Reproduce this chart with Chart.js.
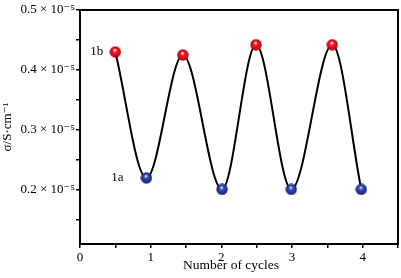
<!DOCTYPE html>
<html>
<head>
<meta charset="utf-8">
<script src="https://cdn.jsdelivr.net/npm/chart.js@4.4.1/dist/chart.umd.min.js"></script>
<style>
  html, body { margin: 0; padding: 0; background: #fff; }
  #wrap { width: 401px; height: 278px; }
</style>
</head>
<body>
<div id="wrap"><canvas id="cycleChart"></canvas></div>
<script>
// conductivity (x 10^-5 S/cm) vs cycle number
const cycles = [0.5, 0.94, 1.455, 2.01, 2.49, 2.99, 3.57, 3.98];
const sigma = [0.430, 0.220, 0.425, 0.201, 0.442, 0.201, 0.442, 0.201];
const states = ['1b', '1a', '1b', '1a', '1b', '1a', '1b', '1a'];
const xTicks = [0, 0.5, 1, 1.5, 2, 2.5, 3, 3.5, 4, 4.5];
const yTicks = [0.15, 0.2, 0.25, 0.3, 0.35, 0.4, 0.45, 0.5];
const xLabels = [0, 1, 2, 3, 4];
const yLabels = [0.2, 0.3, 0.4, 0.5];

const serif = '"Liberation Serif", "DejaVu Serif", serif';

// little shaded balls for the markers
function makeBall(light, mid, dark) {
  const c = document.createElement('canvas');
  c.width = 12; c.height = 12;
  const g = c.getContext('2d');
  const grad = g.createRadialGradient(5.5, 4, 0.5, 6, 6, 6);
  grad.addColorStop(0, light);
  grad.addColorStop(0.3, mid);
  grad.addColorStop(1, dark);
  g.fillStyle = grad;
  g.beginPath();
  g.arc(6, 6, 5.7, 0, Math.PI * 2);
  g.fill();
  return c;
}
const redBall = makeBall('#ffe0e0', '#f41820', '#b00010');
const blueBall = makeBall('#d0d8ff', '#3448b4', '#14206a');

const frame = {
  id: 'frame',
  afterDraw(chart) {
    const { ctx, chartArea: a } = chart;
    ctx.save();
    ctx.strokeStyle = '#000';
    ctx.lineWidth = 2;
    ctx.strokeRect(a.left, a.top, a.right - a.left, a.bottom - a.top);
    ctx.fillStyle = '#000';
    // x axis title sits a bit left of centre in the original
    ctx.font = '13.5px ' + serif;
    ctx.textAlign = 'center';
    ctx.textBaseline = 'alphabetic';
    ctx.fillText('Number of cycles', (a.left + a.right) / 2 - 8, a.bottom + 25);
    // state labels next to the first pair of points
    const pts = chart.getDatasetMeta(0).data;
    ctx.font = '13px ' + serif;
    ctx.textAlign = 'right';
    ctx.textBaseline = 'middle';
    ctx.fillText(states[0], pts[0].x - 12, pts[0].y);
    ctx.fillText(states[1], pts[1].x - 23, pts[1].y);
    ctx.restore();
  }
};

new Chart(document.getElementById('cycleChart'), {
  type: 'line',
  data: {
    datasets: [{
      data: cycles.map((c, i) => ({ x: c, y: sigma[i] })),
      borderColor: '#000',
      borderWidth: 2,
      cubicInterpolationMode: 'monotone',
      pointStyle: states.map(s => s === '1b' ? redBall : blueBall),
      pointRadius: 6,
      fill: false
    }]
  },
  options: {
    responsive: true,
    maintainAspectRatio: false,
    animation: false,
    layout: { autoPadding: false, padding: { top: 10, right: 3, left: 0, bottom: 0 } },
    plugins: { legend: { display: false }, tooltip: { enabled: false } },
    scales: {
      x: {
        type: 'linear',
        min: 0,
        max: 4.5,
        afterBuildTicks: s => { s.ticks = xTicks.map(v => ({ value: v })); },
        afterFit: s => { s.height = 34; },
        border: { display: false },
        grid: { drawOnChartArea: false, drawTicks: true, tickLength: 4, color: '#000', lineWidth: 1.5 },
        ticks: {
          color: '#000',
          font: { family: serif, size: 13 },
          padding: 2,
          maxRotation: 0,
          autoSkip: false,
          callback: v => xLabels.includes(v) ? String(v) : ''
        }
      },
      y: {
        min: 0.11,
        max: 0.5,
        afterBuildTicks: s => { s.ticks = yTicks.map(v => ({ value: v })); },
        afterFit: s => { s.width = 80; },
        border: { display: false },
        grid: { drawOnChartArea: false, drawTicks: true, tickLength: 4, color: '#000', lineWidth: 1.5 },
        ticks: {
          color: '#000',
          font: { family: serif, size: 13 },
          padding: 1,
          autoSkip: false,
          callback: v => yLabels.some(l => Math.abs(l - v) < 1e-9) ? v.toFixed(1) + ' \u00d7 10\u207b\u2075' : ''
        },
        title: {
          display: true,
          text: '\u03c3/S\u00b7cm\u207b\u00b9',
          color: '#000',
          font: { family: serif, size: 13 },
          padding: { top: 0, bottom: 0 }
        }
      }
    }
  },
  plugins: [frame]
});
</script>
</body>
</html>
